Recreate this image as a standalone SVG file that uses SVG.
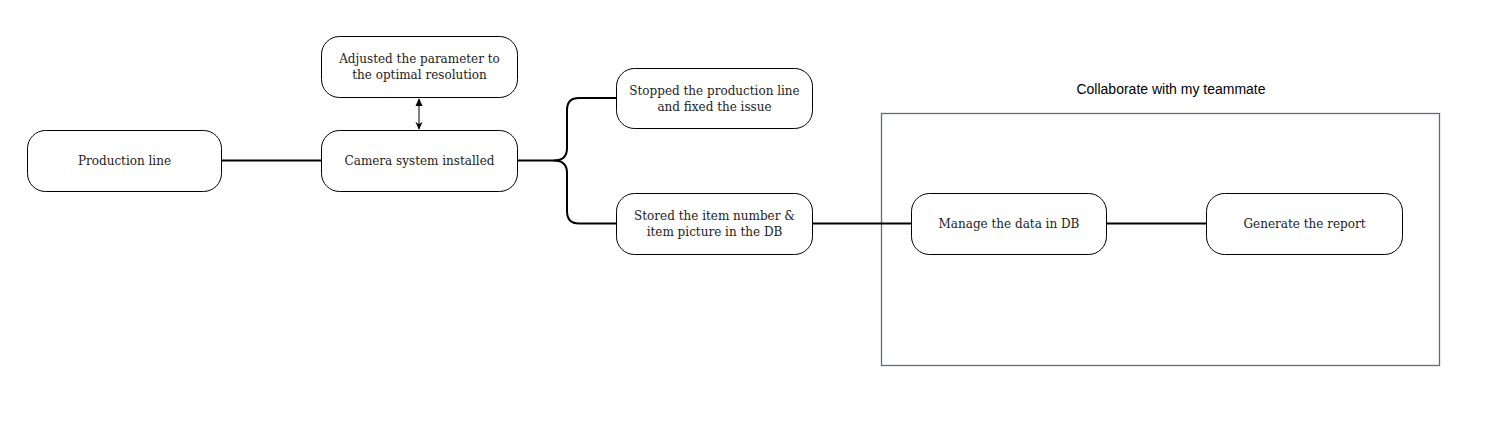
<svg xmlns="http://www.w3.org/2000/svg" width="1491" height="422" viewBox="0 0 1491 422">
<style>
.node{fill:#fff;stroke:#000;stroke-width:1}
.lbl{font-family:"DejaVu Serif","Liberation Serif",serif;font-size:12px;fill:#222;text-anchor:middle}
.edge{fill:none;stroke:#000;stroke-width:2}
.title{font-family:"Liberation Sans",Arial,sans-serif;font-size:14px;fill:#000;text-anchor:middle}
</style>
<defs>
<marker id="ahs" viewBox="0 0 10 10" refX="9" refY="5" markerWidth="8" markerHeight="8" markerUnits="userSpaceOnUse" orient="auto-start-reverse"><path d="M0,0.5 L10,5 L0,9.5 Z" fill="#000"/></marker>
<marker id="ahe" viewBox="0 0 10 10" refX="9" refY="5" markerWidth="8" markerHeight="8" markerUnits="userSpaceOnUse" orient="auto"><path d="M0,0.5 L10,5 L0,9.5 L3,5 Z" fill="#000"/></marker>
</defs>
<rect width="1491" height="422" fill="#fff"/>
<g id="container">
<rect x="881.5" y="113.5" width="558" height="252" fill="none" stroke="#5f6b7a" stroke-width="1.3"/>
<text class="title" x="1171" y="94">Collaborate with my teammate</text>
</g>
<g id="connectors">
<line class="edge" x1="221" y1="160.5" x2="321" y2="160.5"/>
<line x1="419" y1="99" x2="419" y2="129" stroke="#555" stroke-width="1.5" marker-start="url(#ahs)" marker-end="url(#ahe)"/>
<path class="edge" d="M517,160.5 H554 Q567,160.5 567,148 V110 Q567,98 579,98 H616"/>
<path class="edge" d="M554,160.5 Q567,160.5 567,173 V211 Q567,223.5 579,223.5 H616"/>
<line class="edge" x1="812" y1="223.5" x2="911" y2="223.5"/>
<line class="edge" x1="1106" y1="223.5" x2="1206" y2="223.5"/>
</g>
<g id="n-production"><rect class="node" x="27.5" y="130.5" width="194" height="61" rx="18"/><text class="lbl" x="124.5" y="165">Production line</text></g>
<g id="n-camera"><rect class="node" x="321.5" y="130.5" width="196" height="61" rx="18"/><text class="lbl" x="419.5" y="165">Camera system installed</text></g>
<g id="n-adjust"><rect class="node" x="321.5" y="36.5" width="196" height="61" rx="18"/><text class="lbl" x="419.5" y="63">Adjusted the parameter to</text><text class="lbl" x="419.5" y="79">the optimal resolution</text></g>
<g id="n-stopped"><rect class="node" x="616.5" y="68.5" width="196" height="60" rx="18"/><text class="lbl" x="714.5" y="95">Stopped the production line</text><text class="lbl" x="714.5" y="111">and fixed the issue</text></g>
<g id="n-stored"><rect class="node" x="616.5" y="193.5" width="196" height="61" rx="18"/><text class="lbl" x="714.5" y="220">Stored the item number &amp;</text><text class="lbl" x="714.5" y="236">item picture in the DB</text></g>
<g id="n-manage"><rect class="node" x="911.5" y="193.5" width="195" height="61" rx="18"/><text class="lbl" x="1009" y="228">Manage the data in DB</text></g>
<g id="n-report"><rect class="node" x="1206.5" y="193.5" width="196" height="61" rx="18"/><text class="lbl" x="1304.5" y="228">Generate the report</text></g>
</svg>
